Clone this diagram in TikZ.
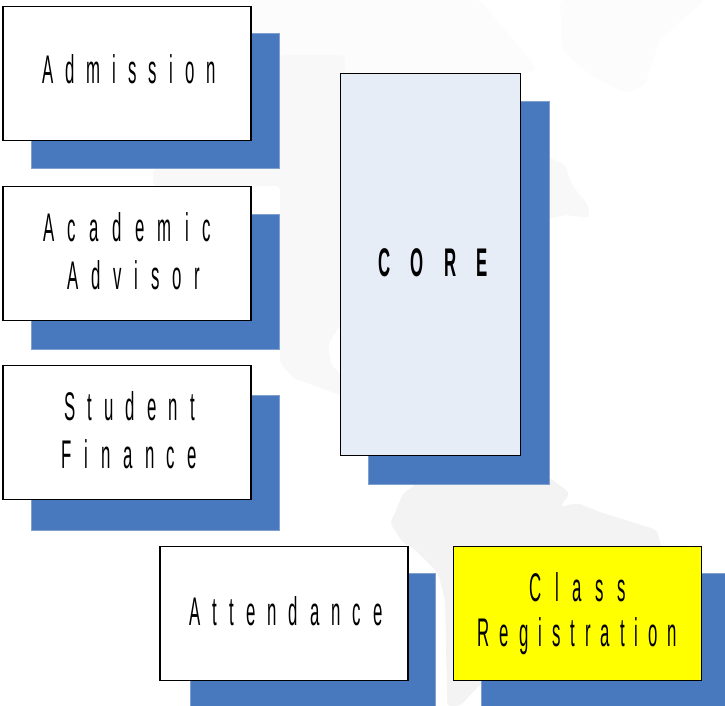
\documentclass[tikz,border=0pt]{standalone}
\usepackage{fontspec}
\usepackage{tikz}
\newfontfamily\boxfont[FakeStretch=0.42,LetterSpace=31]{Liberation Sans}
\definecolor{shadowblue}{HTML}{4878BE}
\definecolor{corefill}{HTML}{E7EDF7}
\definecolor{mapgray}{HTML}{F3F3F3}
\definecolor{mapfaint}{HTML}{FCFCFC}
\definecolor{mapmid}{HTML}{F8F8F8}
\definecolor{classyellow}{HTML}{FFFF00}
\newcommand{\moved}[4]{\raisebox{#2}{\addfontfeature{LetterSpace=#3}\hspace*{#1}#4}}
\tikzset{
	panel/.style={draw=black,line width=0.8pt,fill=white,inner sep=0pt,align=center,minimum width=186pt,minimum height=101pt,font=\boxfont\fontsize{30}{36}\selectfont},
	panelshadow/.style={fill=shadowblue,draw=shadowblue!70!white,line width=0.4pt,inner sep=0pt,minimum width=186pt,minimum height=101pt},
	mapshape/.style={rounded corners=3pt}
}
\begin{document}
\begin{tikzpicture}[x=0.75pt,y=-0.75pt]
	\useasboundingbox (0,0) rectangle (725,706);
	% map behind the boxes
	\fill[mapfaint,mapshape] (252,0) -- (480,0) -- (530,60) -- (537,70) -- (500,80) -- (340,80) -- (252,60) -- cycle;
	\fill[mapfaint,mapshape] (560,0) -- (705,0) -- (660,40) -- (645,85) -- (625,93) -- (590,75) -- (562,50) -- cycle;
	\fill[mapmid,mapshape] (280,55) -- (345,55) -- (345,325) -- (340,325) -- (328,345) -- (331,365) -- (345,378) -- (345,395) -- (340,395) -- (293,378) -- (280,363) -- (280,186) -- (153,186) -- (153,169) -- (280,169) -- cycle;
	\fill[mapmid,mapshape] (545,155) -- (565,165) -- (572,185) -- (588,205) -- (590,218) -- (565,215) -- (545,220) -- cycle;
	\fill[mapgray,mapshape] (403,493) -- (413,487) -- (420,478) -- (550,478) -- (570,493) -- (560,507) -- (577,503) -- (603,513) -- (657,530) -- (662,550) -- (560,600) -- (460,706) -- (447,706) -- (447,690) -- (445,600) -- (438,573) -- (412,547) -- (403,543) -- (390,523) -- (395,513) -- cycle;
	\node[panelshadow] (admissionshadow) at (155,101) {};
	\node[panelshadow] (advisorshadow) at (155,281.5) {};
	\node[panelshadow] (financeshadow) at (155,462.5) {};
	\node[panelshadow,minimum width=184pt] (attendanceshadow) at (313,641) {};
	\node[panelshadow] (registrationshadow) at (605,641) {};
	\node[panelshadow,minimum width=136pt,minimum height=287pt] (coreshadow) at (458.5,292.5) {};
	\node[panel] (admission) at (127,73.5) {\moved{3pt}{6pt}{30}{Admission}};
	\node[panel] (advisor) at (127,253.5) {\moved{0pt}{3pt}{33.5}{Academic}\\\moved{10pt}{3pt}{32}{Advisor}};
	\node[panel] (finance) at (127,432.5) {\moved{4pt}{3pt}{30.5}{Student}\\\moved{4pt}{3pt}{31.5}{Finance}};
	\node[panel] (attendance) at (284,613.5) {\moved{3pt}{3pt}{30}{Attendance}};
	\node[panel,fill=classyellow] (registration) at (577.5,613.5) {\moved{0pt}{-2pt}{34}{Class}\\\moved{0pt}{0pt}{25}{Registration}};
	\node[panel,fill=corefill,minimum width=135.5pt,minimum height=287pt,font=\boxfont\bfseries\fontsize{30}{36}\selectfont] (core) at (430.5,264.5) {\moved{4pt}{3pt}{51}{CORE}};
\end{tikzpicture}
\end{document}
